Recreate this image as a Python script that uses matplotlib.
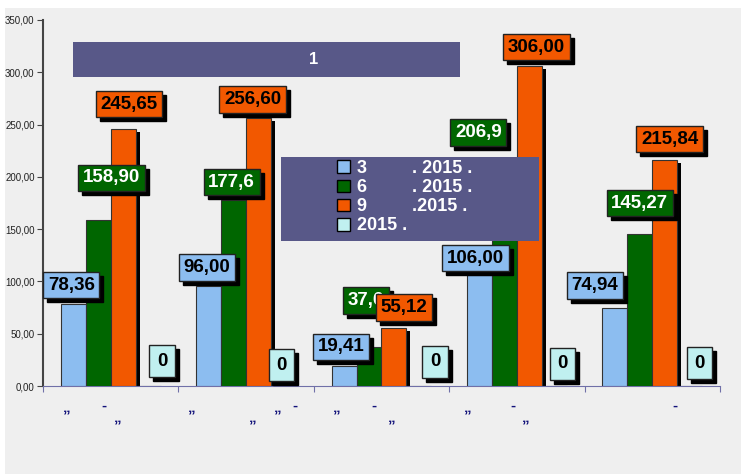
from matplotlib import pyplot as plt
from matplotlib.patches import Rectangle
import numpy as np

# data
groups = ['1', '2', '3', '4', '5']
series = ['3         . 2015 .', '6         . 2015 .', '9         .2015 .', '2015 .']
values = [
    [78.36, 96.00, 19.41, 106.00, 74.94],
    [158.90, 177.6, 37.6, 206.9, 145.27],
    [245.65, 256.60, 55.12, 306.00, 215.84],
    [0, 0, 0, 0, 0],
]
labels = [
    ['78,36', '96,00', '19,41', '106,00', '74,94'],
    ['158,90', '177,6', '37,6', '206,9', '145,27'],
    ['245,65', '256,60', '55,12', '306,00', '215,84'],
    ['0', '0', '0', '0', '0'],
]
yticks = [0, 50, 100, 150, 200, 250, 300, 350]

# layout: label offsets in pixels from the top centre of each bar
label_dx = [[-2, -2, -3, -4, -20], [13, -2, -3, -26, 0], [6, -6, 10, 7, 5], [14, -2, 16, 8, 10]]
label_dy = [[19, 18, 19, 17, 22], [42, 18, 46, 37, 31], [25, 18, 21, 19, 21], [25, 21, 24, 22, 23]]
# leftover marks under the axis: (group, text, dx, dy) in pixels from group centre
axis_marks = [
    (0, '„', -44, -22), (0, '-', -7, -20), (0, '„', 7, -32),
    (1, '„', -54, -22), (1, '„', 7, -32), (1, '„', 32, -22), (1, '-', 49, -20),
    (2, '„', -45, -22), (2, '-', -8, -20), (2, '„', 10, -32),
    (3, '„', -49, -22), (3, '-', -4, -20), (3, '„', 9, -32),
    (4, '-', 23, -20),
]

colors = ['#8cbdf0', '#006600', '#f25800', '#c0f0f0']
text_colors = ['black', 'white', 'black', 'black']
box = '#585888'
bg = '#efefef'

plt.rcParams['font.family'] = ['Liberation Sans', 'DejaVu Sans']

fig = plt.figure(figsize=(7.41, 4.74), dpi=100)
fig.patches.append(Rectangle((5 / 741, 0), 1, 1 - 8 / 474, transform=fig.transFigure,
                             facecolor=bg, edgecolor='none', zorder=-10))
ax = fig.add_axes([43 / 741, 88 / 474, 677 / 741, 366 / 474])
ax.set_facecolor(bg)

x = np.arange(len(groups))
width = 25 / 135.5
px_x = 1 / 135.5
px_y = 350 / 366

for i in range(len(series)):
    pos = x - 1.5 * width + i * width
    v = np.array(values[i])
    # black drop shadow behind each bar
    ax.bar(pos + 4 * px_x, np.clip(v - 3 * px_y, 0, None), width, color='black', zorder=2)
    ax.bar(pos, v, width, color=colors[i], edgecolor='#333333', linewidth=0.8,
           label=series[i], zorder=3)

for i in range(len(series)):
    pad = 0.4 if i == 3 else 0.25
    for g in range(len(groups)):
        px = x[g] - 1.5 * width + i * width
        py = values[i][g]
        dx, dy = label_dx[i][g], label_dy[i][g]
        ax.annotate(labels[i][g], (px, py), xytext=(dx + 4, dy - 4), textcoords='offset pixels',
                    ha='center', va='center', fontsize=13.5, fontweight='bold', color='none',
                    bbox=dict(boxstyle='square,pad=%s' % pad, fc='black', ec='black'), zorder=5)
        ax.annotate(labels[i][g], (px, py), xytext=(dx, dy), textcoords='offset pixels',
                    ha='center', va='center', fontsize=13.5, fontweight='bold', color=text_colors[i],
                    bbox=dict(boxstyle='square,pad=%s' % pad, fc=colors[i], ec='#222222', lw=1),
                    zorder=6)

for g, t, dx, dy in axis_marks:
    ax.annotate(t, (x[g], 0), xytext=(dx, dy), textcoords='offset pixels', ha='center',
                va='center', fontsize=11, fontweight='bold', color='#12127a', annotation_clip=False)

ax.set_xlim(-0.5, len(groups) - 0.5)
ax.set_ylim(0, 350)
ax.set_yticks(yticks)
ax.set_yticklabels(['%d,00' % t for t in yticks], fontsize=7, color='#222222')
ax.set_xticks(np.arange(len(groups) + 1) - 0.5)
ax.set_xticklabels([])
ax.tick_params(axis='x', direction='out', length=4, color='#7070a8')
ax.tick_params(axis='y', direction='out', length=4, color='#444444', pad=2)
for s in ['top', 'right']:
    ax.spines[s].set_visible(False)
ax.spines['left'].set_color('#444444')
ax.spines['left'].set_linewidth(1.5)
ax.spines['bottom'].set_color('#7070a8')

# title box, drawn on top of the axes content
ax.add_patch(Rectangle((73 / 741, 1 - 77 / 474), 387 / 741, 35 / 474, transform=fig.transFigure,
                       facecolor=box, edgecolor='none', zorder=8, clip_on=False))
ax.text(314 / 741, 1 - 59 / 474, '1', transform=fig.transFigure, color='white', fontsize=12,
        fontweight='bold', ha='center', va='center', zorder=9)

# legend box
ax.add_patch(Rectangle((281 / 741, 1 - 241 / 474), 258 / 741, 84 / 474, transform=fig.transFigure,
                       facecolor=box, edgecolor='none', zorder=8, clip_on=False))
leg = ax.legend(loc='upper left', bbox_to_anchor=(337 / 741, 1 - 160 / 474),
                bbox_transform=fig.transFigure, frameon=False, prop={'size': 13, 'weight': 'bold'},
                handlelength=0.7, handleheight=0.7, handletextpad=0.4, labelspacing=0.12,
                borderpad=0, borderaxespad=0)
leg.set_zorder(10)
for t in leg.get_texts():
    t.set_color('white')
for h in leg.legend_handles:
    h.set_edgecolor('black')
    h.set_linewidth(1)

fig.savefig('out.png', dpi=100, facecolor='white')
